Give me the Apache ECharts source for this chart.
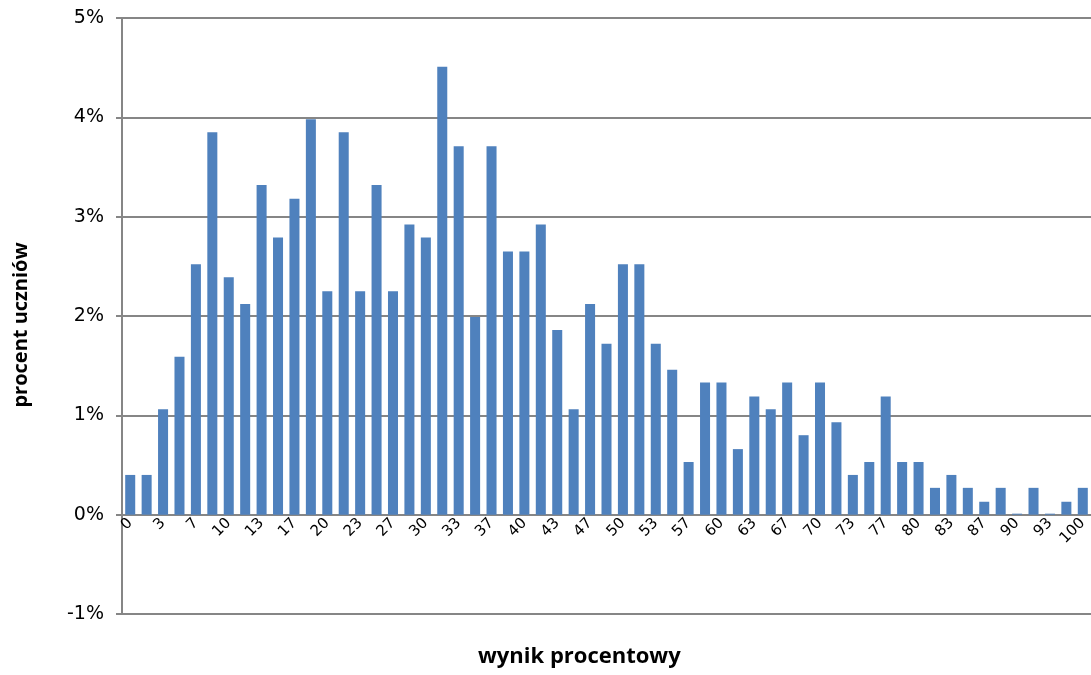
<!DOCTYPE html>
<html><head><meta charset="utf-8">
<script src="https://cdn.jsdelivr.net/npm/echarts@6/dist/echarts.min.js"></script>
<style>html,body{margin:0;padding:0;background:#fff}#c{width:1091px;height:675px}</style>
</head><body><div id="c"></div>
<script>
const categories = ['0','2','3','5','7','8','10','12','13','15','17','18','20','22','23','25','27','28','30','32','33','35','37','38','40','42','43','45','47','48','50','52','53','55','57','58','60','62','63','65','67','68','70','72','73','75','77','78','80','82','83','85','87','88','90','92','93','95','100'];
const values = [0.40,0.40,1.06,1.59,2.52,3.85,2.39,2.12,3.32,2.79,3.18,3.98,2.25,3.85,2.25,3.32,2.25,2.92,2.79,4.51,3.71,1.99,3.71,2.65,2.65,2.92,1.86,1.06,2.12,1.72,2.52,2.52,1.72,1.46,0.53,1.33,1.33,0.66,1.19,1.06,1.33,0.80,1.33,0.93,0.40,0.53,1.19,0.53,0.53,0.27,0.40,0.27,0.13,0.27,0,0.27,0,0.13,0.27];
const yTitle = 'procent uczniów';
const xTitle = 'wynik procentowy';

const gridTop = 18, gridBottom = 61, H = 675;
const plotH = H - gridTop - gridBottom;
const zeroOffset = -plotH / 6; // 0% sits one interval above the -1% bottom

const chart = echarts.init(document.getElementById('c'));
chart.setOption({
  animation: false,
  grid: {left: 122, right: 0, top: gridTop, bottom: gridBottom, containLabel: false},
  xAxis: {
    type: 'category', data: categories, position: 'bottom', offset: zeroOffset,
    axisLine: {onZero: false, lineStyle: {color: '#868686', width: 2}},
    axisTick: {show: false},
    axisLabel: {interval: 1, rotate: 45, color: '#000', fontFamily: 'DejaVu Sans', fontSize: 15, margin: 6}
  },
  yAxis: {
    type: 'value', min: -1, max: 5, interval: 1,
    axisLine: {show: true, lineStyle: {color: '#868686', width: 2}},
    axisTick: {show: true, length: 6, lineStyle: {color: '#868686', width: 2}},
    splitLine: {lineStyle: {color: '#868686', width: 2}},
    axisLabel: {formatter: '{value}%', color: '#000', fontFamily: 'DejaVu Sans', fontSize: 19, margin: 18}
  },
  series: [{
    type: 'bar', data: values, barCategoryGap: '39%', barMinHeight: 1,
    itemStyle: {color: '#4F81BD'}
  }],
  graphic: [
    {type: 'text', x: 478, y: 668, style: {text: xTitle, font: 'bold 22px "Open Sans"', fill: '#000', textVerticalAlign: 'bottom'}},
    {type: 'text', x: 21, y: 325, rotation: Math.PI/2, style: {text: yTitle, font: 'bold 20px "Open Sans"', fill: '#000', textAlign: 'center', textVerticalAlign: 'middle'}}
  ]
});
</script></body></html>
